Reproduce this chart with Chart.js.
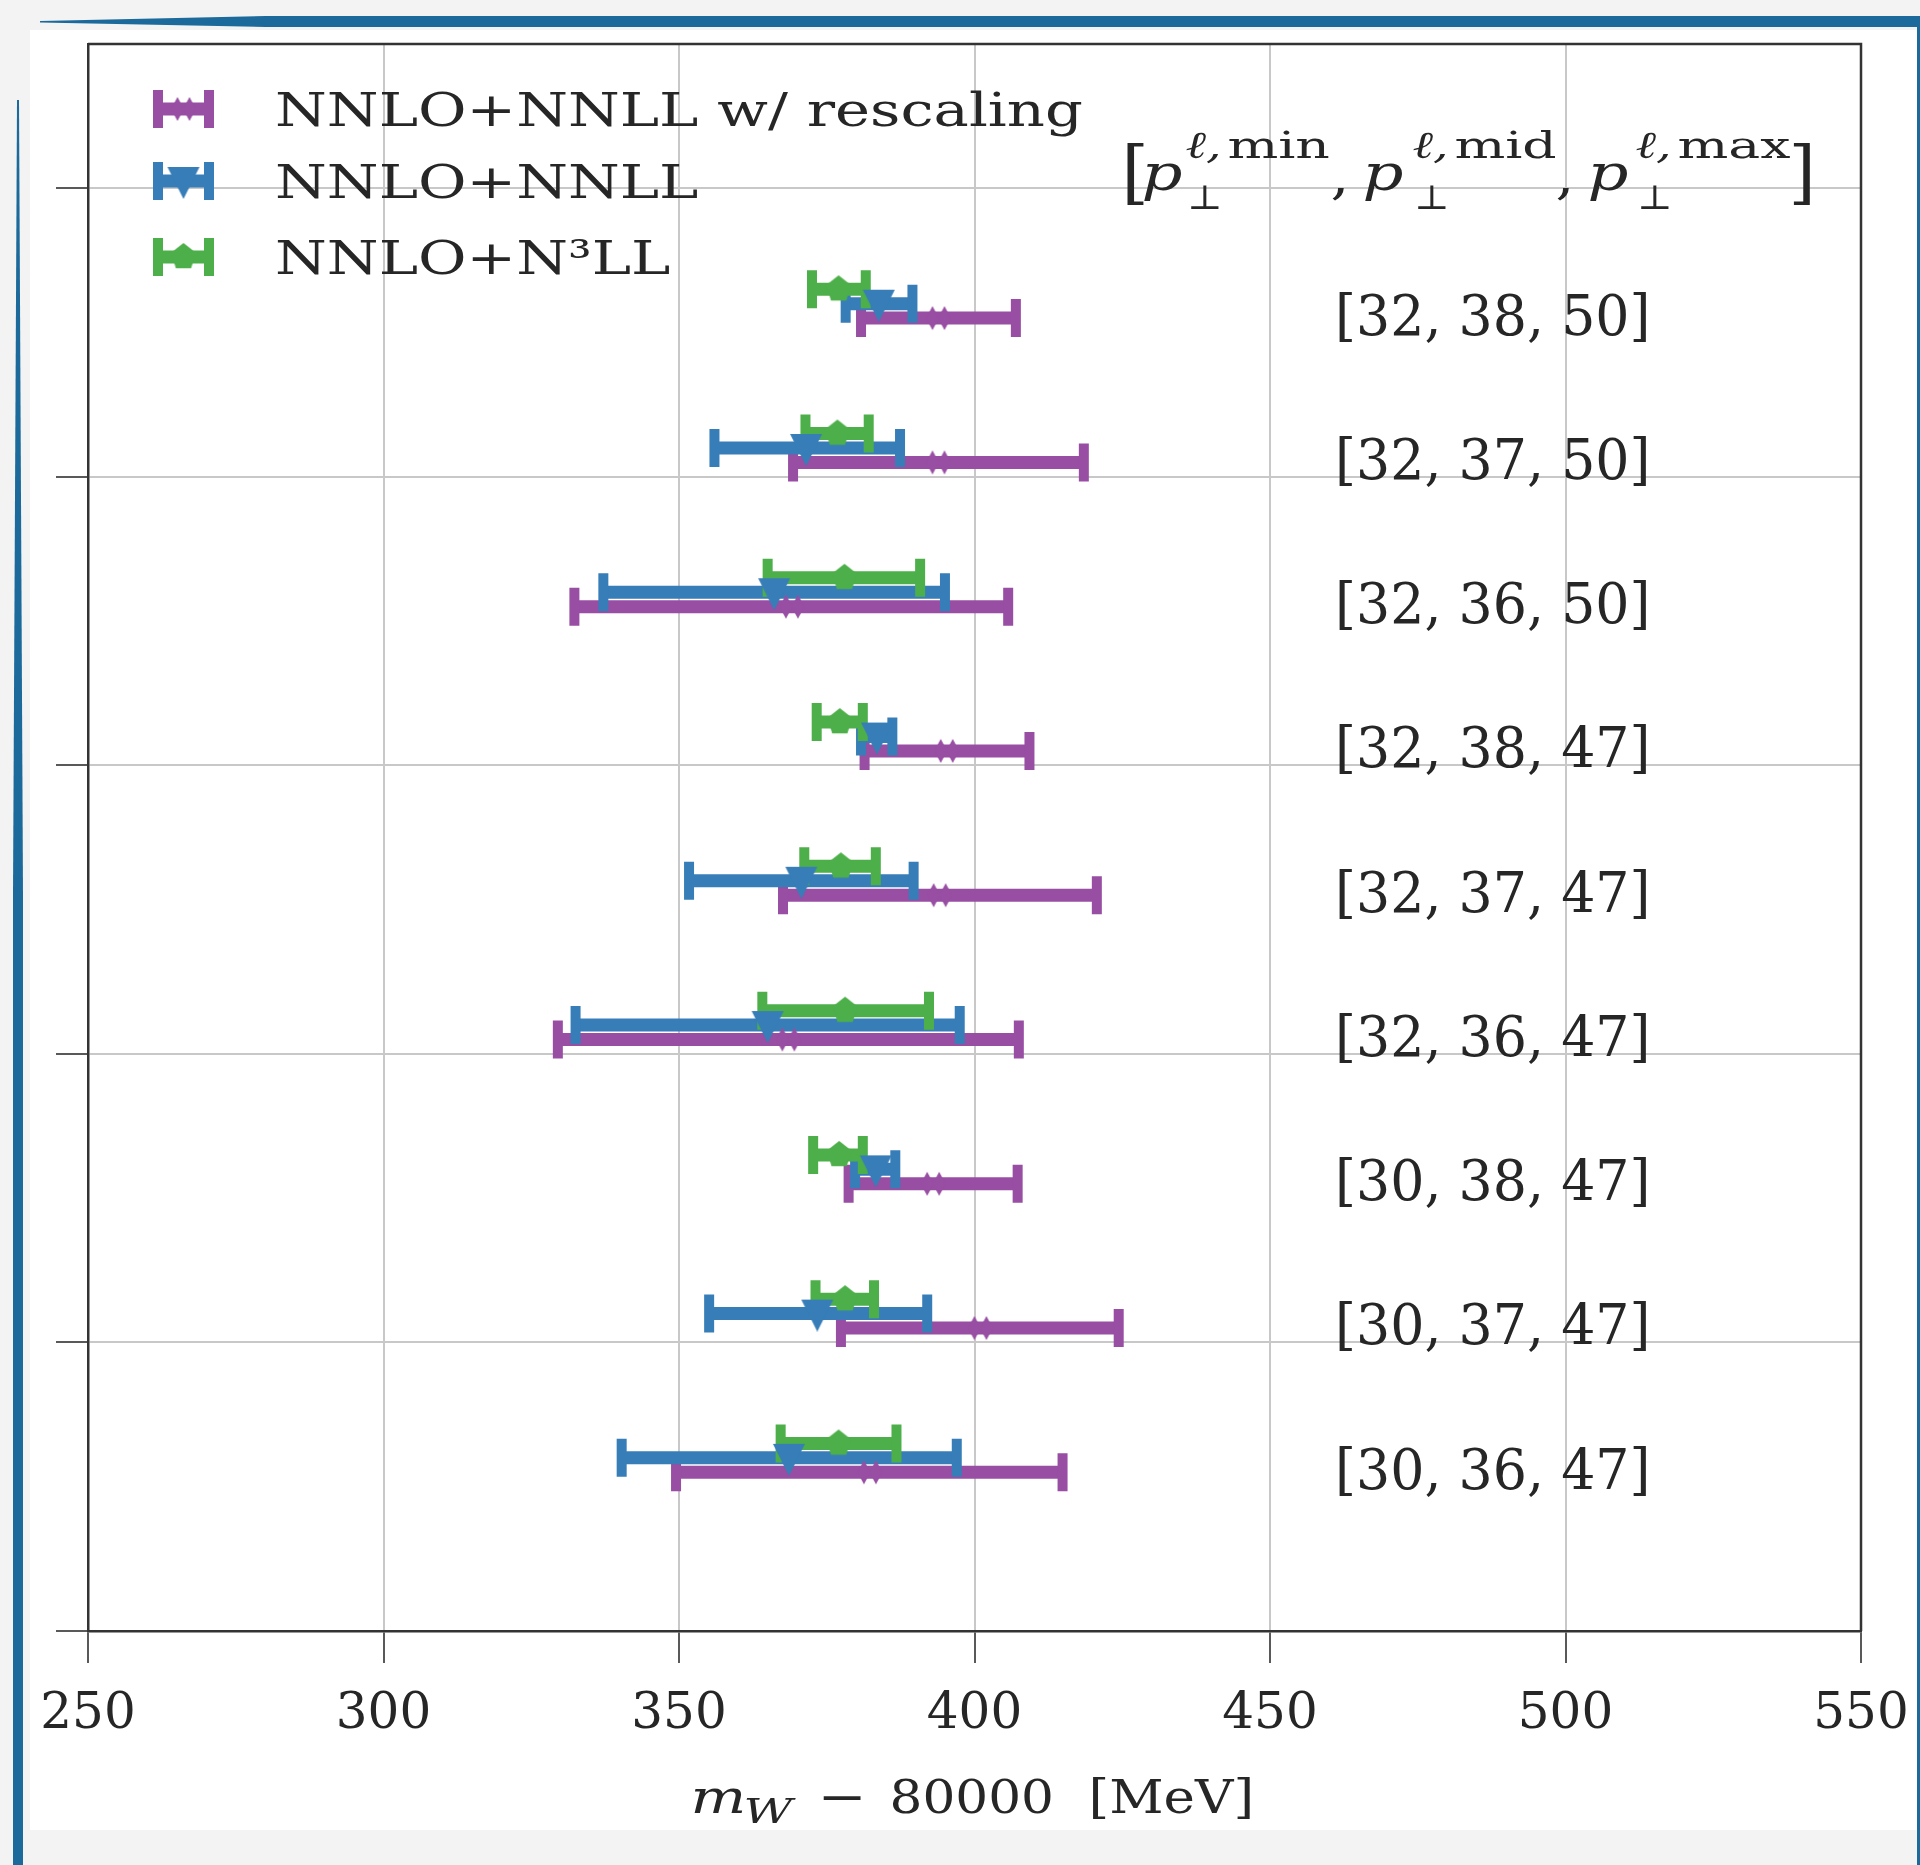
<!DOCTYPE html>
<html>
<head>
<meta charset="utf-8">
<title>m_W fits for different lepton pT windows</title>
<script src="https://cdn.jsdelivr.net/npm/chart.js@4.4.1/dist/chart.umd.min.js"></script>
<style>
  html, body { margin: 0; padding: 0; }
  body { width: 1920px; height: 1865px; position: relative; overflow: hidden; background: #f3f3f3; }
  #sheet { position: absolute; left: 30px; top: 30px; width: 1887px; height: 1800px; background: #fff; }
  #topbar { position: absolute; left: 40px; top: 16px; width: 1880px; height: 11px; background: #1b6a9b;
    clip-path: polygon(0 45%, 12% 0, 100% 0, 100% 100%, 12% 100%, 0 60%); }
  #leftbar { position: absolute; left: 13px; top: 100px; width: 10px; height: 1765px; background: #1b6a9b;
    clip-path: polygon(40% 0, 60% 0, 100% 45%, 100% 100%, 0 100%, 0 45%); }
  #rightbar { position: absolute; left: 1917px; top: 20px; width: 3px; height: 1845px; background: #1b6a9b; }
  canvas { position: absolute; left: 0; top: 0; }
</style>
</head>
<body>
<div id="sheet"></div>
<div id="topbar"></div>
<div id="leftbar"></div>
<div id="rightbar"></div>
<canvas id="chart" width="1920" height="1865"></canvas>
<script>
// rows listed top to bottom: [pT min, pT mid, pT max] windows
const groupLabels = ["[32, 38, 50]", "[32, 37, 50]", "[32, 36, 50]", "[32, 38, 47]", "[32, 37, 47]",
  "[32, 36, 47]", "[30, 38, 47]", "[30, 37, 47]", "[30, 36, 47]"]
const seriesNames = ["NNLO+NNLL w/ rescaling", "NNLO+NNLL", "NNLO+N\u00B3LL"]

const rescaledMid = [393.9, 393.9, 369.1, 395.3, 394.1, 368.5, 393.0, 401.0, 382.3]
const rescaledLo = [380.8, 369.3, 332.3, 381.4, 367.6, 329.5, 378.7, 377.4, 349.5]
const rescaledHi = [407.0, 418.5, 405.7, 409.3, 420.7, 407.5, 407.3, 424.4, 414.9]

const nnllMid = [383.8, 371.5, 366.1, 383.5, 370.7, 365.0, 383.3, 373.4, 368.6]
const nnllLo = [378.2, 356.0, 337.2, 380.8, 351.7, 332.5, 379.8, 355.1, 340.3]
const nnllHi = [389.5, 387.4, 395.0, 386.1, 389.7, 397.5, 386.6, 392.0, 397.0]

const n3llMid = [377.0, 376.8, 378.0, 377.2, 377.4, 378.1, 377.1, 378.1, 377.0]
const n3llLo = [372.5, 371.4, 365.0, 373.3, 371.2, 364.1, 372.7, 373.1, 367.2]
const n3llHi = [381.6, 382.1, 390.8, 381.1, 383.3, 392.3, 381.1, 383.0, 386.8]

const xTicks = [250, 300, 350, 400, 450, 500, 550]
const yTicks = [0, 1, 2, 3, 4, 5]

const PURPLE = "#984ea3"
const BLUE = "#377eb8"
const GREEN = "#4daf4a"
const INK = "#262626"
const SERIF = "'DejaVu Serif', serif"

// row r (0 = top) sits at 0.55 + 0.5 * (8 - r); each series is nudged up a little
const rowY = (r, shift) => 0.55 + 0.5 * (groupLabels.length - 1 - r) + shift

function markerCanvas(kind, color) {
  const c = document.createElement("canvas")
  const g = c.getContext("2d")
  if (kind === "tri") {
    // a touch below centre, like the reference
    c.width = 34; c.height = 36
    g.fillStyle = color
    g.beginPath(); g.moveTo(1, 4); g.lineTo(33, 4); g.lineTo(17, 36); g.closePath(); g.fill()
  } else if (kind === "pent") {
    c.width = 30; c.height = 30
    g.fillStyle = color
    g.beginPath()
    for (let k = 0; k < 5; k++) {
      const a = -Math.PI / 2 + k * 2 * Math.PI / 5
      const px = 15 + 13 * Math.cos(a), py = 15 + 14 * Math.sin(a)
      k ? g.lineTo(px, py) : g.moveTo(px, py)
    }
    g.closePath(); g.fill()
  } else {
    c.width = 26; c.height = 26
    g.fillStyle = color
    for (const cx of [7, 19]) {
      g.beginPath(); g.moveTo(cx, 1); g.lineTo(cx + 6.5, 13); g.lineTo(cx, 25); g.lineTo(cx - 6.5, 13); g.closePath(); g.fill()
    }
  }
  return c
}

function series(label, color, kind, mid, lo, hi, shift, order) {
  return {
    label,
    data: mid.map((v, r) => ({ x: v, y: rowY(r, shift) })),
    lo, hi, order,
    borderColor: color,
    backgroundColor: color,
    pointStyle: markerCanvas(kind, color),
    pointRadius: 12
  }
}

const datasets = [
  series(seriesNames[0], PURPLE, "dd", rescaledMid, rescaledLo, rescaledHi, 0, 2),
  series(seriesNames[1], BLUE, "tri", nnllMid, nnllLo, nnllHi, 0.05, 1),
  series(seriesNames[2], GREEN, "pent", n3llMid, n3llLo, n3llHi, 0.1, 0)
]

function drawBar(ctx, x1, x2, y, color) {
  ctx.strokeStyle = color
  ctx.lineCap = "butt"
  ctx.lineWidth = 13
  ctx.beginPath(); ctx.moveTo(x1, y); ctx.lineTo(x2, y); ctx.stroke()
  ctx.lineWidth = 10
  ctx.beginPath()
  ctx.moveTo(x1, y - 19); ctx.lineTo(x1, y + 19)
  ctx.moveTo(x2, y - 19); ctx.lineTo(x2, y + 19)
  ctx.stroke()
}

function put(ctx, text, x, y, font, sx) {
  ctx.save()
  ctx.font = font
  ctx.fillStyle = INK
  ctx.textAlign = "left"
  ctx.textBaseline = "alphabetic"
  ctx.translate(x, y)
  ctx.scale(sx, 1)
  ctx.fillText(text, 0, 0)
  ctx.restore()
}

// all error bars go under all markers
const errorBars = {
  id: "errorBars",
  beforeDatasetsDraw(chart) {
    const { x, y } = chart.scales
    const ctx = chart.ctx
    ctx.save()
    chart.data.datasets.forEach((ds) => {
      ds.data.forEach((p, i) => {
        drawBar(ctx, x.getPixelForValue(ds.lo[i]), x.getPixelForValue(ds.hi[i]), y.getPixelForValue(p.y), ds.borderColor)
      })
    })
    ctx.restore()
  }
}

const frame = {
  id: "frame",
  afterDatasetsDraw(chart) {
    const { ctx, chartArea: a } = chart
    ctx.save()
    ctx.strokeStyle = "#333"
    ctx.lineWidth = 2.5
    ctx.beginPath()
    ctx.moveTo(a.left, a.top); ctx.lineTo(a.right, a.top); ctx.lineTo(a.right, a.bottom)
    ctx.stroke()
    ctx.restore()
  }
}

const annotations = {
  id: "annotations",
  afterDraw(chart) {
    const { ctx, chartArea: a } = chart
    const { x, y } = chart.scales

    // legend: error-bar sample, marker, name
    ctx.save()
    ;[65, 137, 213].forEach((dy, i) => {
      const ds = chart.data.datasets[i]
      const cy = a.top + dy
      drawBar(ctx, a.left + 70, a.left + 121, cy, ds.borderColor)
      const m = ds.pointStyle
      ctx.drawImage(m, a.left + 95.5 - m.width / 2, cy - m.height / 2)
      put(ctx, ds.label, a.left + 187, cy + 17, "47px " + SERIF, 1.26)
    })
    ctx.restore()

    // column header [p_perp^{l,min}, p_perp^{l,mid}, p_perp^{l,max}]
    const hx = x.getPixelForValue(425.7)
    const hy = y.getPixelForValue(4.995)
    put(ctx, "[", hx - 5, hy + 6, "70px " + SERIF, 1)
    ;[["min", 15, 59], ["mid", 236, 286], ["max", 461, 509]].forEach(([tag, px, sx]) => {
      put(ctx, "p", hx + px, hy, "italic 50px " + SERIF, 1.28)
      put(ctx, "\u2113,", hx + sx, hy - 32, "italic 38px " + SERIF, 1.3)
      put(ctx, tag, hx + sx + 42, hy - 32, "38px " + SERIF, 1.41)
      put(ctx, "\u22A5", hx + sx + 2, hy + 19, "34px " + SERIF, 1.1)
    })
    put(ctx, ",", hx + 204, hy + 4, "50px " + SERIF, 1.2)
    put(ctx, ",", hx + 429, hy + 4, "50px " + SERIF, 1.2)
    put(ctx, "]", hx + 662, hy + 6, "70px " + SERIF, 1)

    // group labels on the right
    groupLabels.forEach((t, r) => {
      put(ctx, t, x.getPixelForValue(461), y.getPixelForValue(rowY(r, -0.057)), "56px " + SERIF, 0.96)
    })

    // x axis title: m_W - 80000 [MeV]
    const cx = (a.left + a.right) / 2
    const by = a.bottom + 182
    put(ctx, "m", cx - 284, by, "italic 47px " + SERIF, 1.25)
    put(ctx, "W", cx - 231, by + 10, "italic 34px " + SERIF, 1.4)
    put(ctx, "\u2212", cx - 157, by, "47px " + SERIF, 1.25)
    put(ctx, "80000", cx - 85, by, "47px " + SERIF, 1.1)
    put(ctx, "[MeV]", cx + 114, by, "47px " + SERIF, 1.13)
  }
}

const gridStyle = { color: "#c8c8c8", lineWidth: 2, tickLength: 32, tickColor: "#222", tickWidth: 1.5 }

new Chart(document.getElementById("chart"), {
  type: "scatter",
  data: { datasets },
  options: {
    responsive: false,
    animation: false,
    layout: { padding: { left: 56, right: 59, top: 44, bottom: 98 } },
    plugins: { legend: { display: false }, tooltip: { enabled: false } },
    scales: {
      x: {
        type: "linear",
        min: 250,
        max: 550,
        afterBuildTicks: (s) => { s.ticks = xTicks.map((v) => ({ value: v })) },
        // the last tick label may run past the frame, as in the reference
        afterFit: (s) => { s.paddingLeft = 0; s.paddingRight = 0 },
        ticks: { font: { family: SERIF, size: 50 }, color: INK, padding: 22, maxRotation: 0 },
        grid: gridStyle,
        border: { color: "#333", width: 2.5 }
      },
      y: {
        type: "linear",
        min: 0,
        max: 5.5,
        afterBuildTicks: (s) => { s.ticks = yTicks.map((v) => ({ value: v })) },
        ticks: { display: false },
        grid: gridStyle,
        border: { color: "#333", width: 2.5 }
      }
    }
  },
  plugins: [errorBars, frame, annotations]
})
</script>
</body>
</html>
